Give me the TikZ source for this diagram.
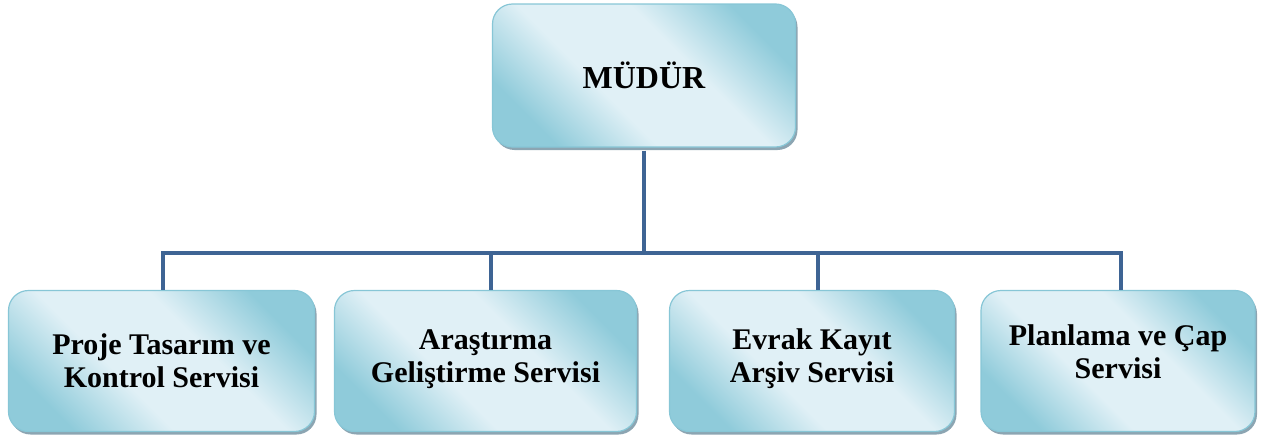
\documentclass[tikz,border=0pt]{standalone}
\usepackage{fontspec}
\setmainfont{Liberation Serif}
\usetikzlibrary{shadows}
\definecolor{dk}{RGB}{143,203,218}
\definecolor{lt}{RGB}{224,240,246}
\definecolor{bd}{RGB}{135,198,214}
\definecolor{shc}{RGB}{140,165,178}
\definecolor{lc}{RGB}{62,100,148}
\pgfdeclarehorizontalshading{boxshade}{100bp}{color(0bp)=(dk); color(25bp)=(dk); color(41bp)=(lt); color(59bp)=(lt); color(75bp)=(dk); color(100bp)=(dk)}
\tikzset{
  box/.style={rectangle, rounded corners=20pt, draw=bd, line width=1.2pt,
    shading=boxshade, shading angle=45,
    drop shadow={shadow xshift=2pt, shadow yshift=-3pt, fill=shc, opacity=1},
    align=center, font=\bfseries\fontsize{30}{33}\selectfont, inner sep=0pt},
  conn/.style={draw=lc, line width=3.6pt, line join=miter}
}
\begin{document}
\begin{tikzpicture}[x=1pt,y=-1pt]
\useasboundingbox (0,0) rectangle (1261,439);
\node[box, minimum width=303pt, minimum height=143pt, font=\bfseries\fontsize{32}{35}\selectfont] (top) at (644,75.5) {MÜDÜR};
\node[box, minimum width=306pt, minimum height=141pt] (b1) at (161.5,361) {Proje Tasarım ve\\Kontrol Servisi};
\node[box, minimum width=302pt, minimum height=141pt] (b2) at (485.5,361) {Araştırma\\Geliştirme Servisi\rule[-10pt]{0pt}{1pt}};
\node[box, minimum width=285pt, minimum height=141pt] (b3) at (812,361) {Evrak Kayıt\\Arşiv Servisi\rule[-10pt]{0pt}{1pt}};
\node[box, minimum width=274pt, minimum height=141pt] (b4) at (1118,361) {Planlama ve Çap\\Servisi\rule[-18pt]{0pt}{1pt}};
\coordinate (j) at (644,253);
\coordinate (h1) at (163,253);
\coordinate (h2) at (491,253);
\coordinate (h3) at (818,253);
\coordinate (h4) at (1121,253);
\draw[conn] ([yshift=-3pt]top.south) -- (j);
\draw[conn] (b1.north -| h1) -- (h1) -- (h4) -- (b4.north -| h4);
\draw[conn] (h2) -- (b2.north -| h2);
\draw[conn] (h3) -- (b3.north -| h3);
\end{tikzpicture}
\end{document}
